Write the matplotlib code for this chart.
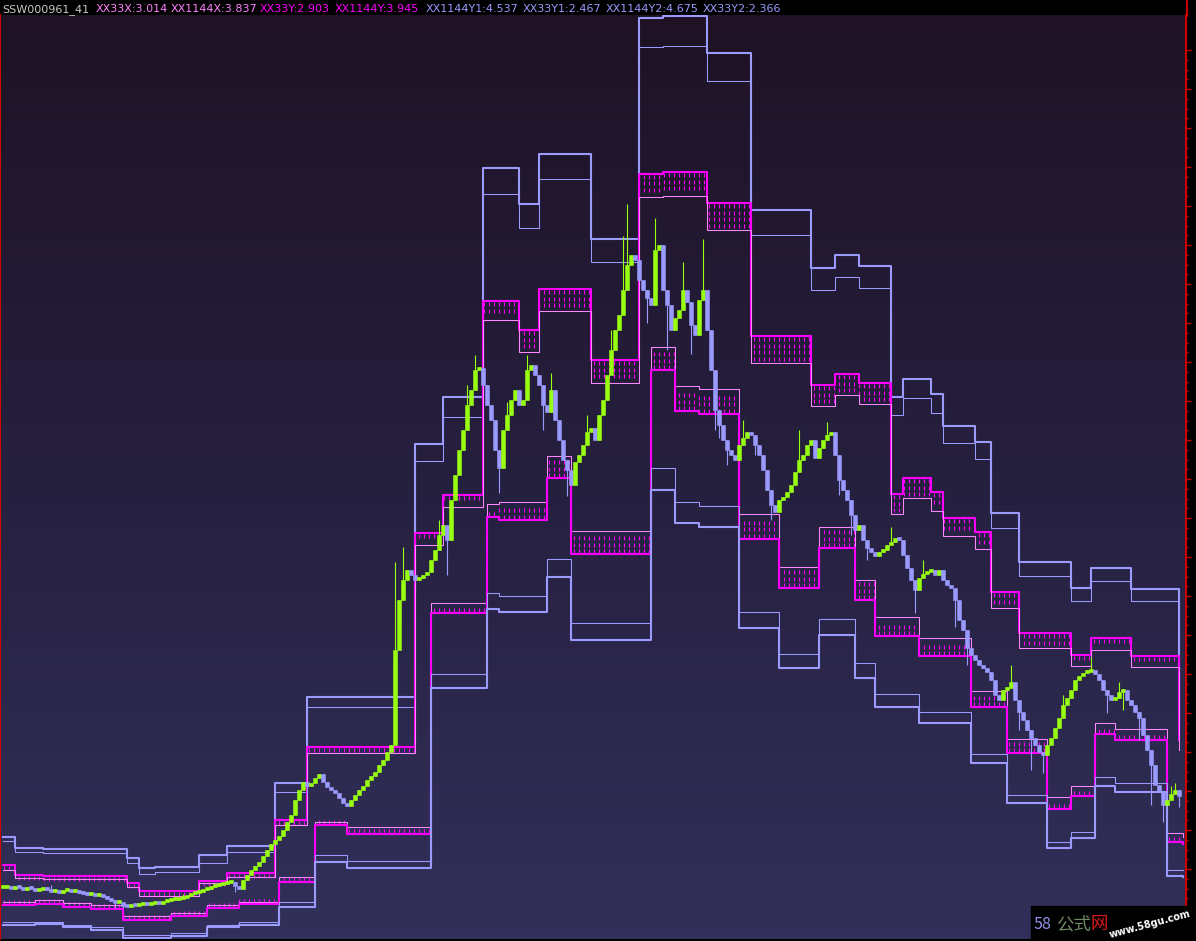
import numpy as np
import matplotlib
matplotlib.use("Agg")
import matplotlib.pyplot as plt
from matplotlib.colors import LinearSegmentedColormap
from matplotlib.lines import Line2D
from matplotlib.patches import Rectangle

# ---- price data (one candle per bar) ----
closes = [
    2.24, 2.26, 2.22, 2.28, 2.24, 2.20, 2.24, 2.22, 2.18, 2.20,
    2.24, 2.20, 2.16, 2.18, 2.14, 2.18, 2.20, 2.16, 2.18, 2.14,
    2.12, 2.10, 2.12, 2.08, 2.10, 2.06, 2.02, 1.98, 1.94, 1.96,
    1.88, 1.86, 1.90, 1.88, 1.90, 1.92, 1.90, 1.92, 1.94, 1.92,
    1.96, 1.98, 2.00, 2.00, 2.02, 2.04, 2.08, 2.12, 2.14, 2.16,
    2.20, 2.22, 2.26, 2.28, 2.30, 2.32, 2.34, 2.36, 2.28, 2.22,
    2.40, 2.50, 2.60, 2.68, 2.76, 2.88, 3.00, 3.12, 3.20, 3.28,
    3.40, 3.56, 3.70, 4.00, 4.20, 4.36, 4.28, 4.34, 4.44, 4.52,
    4.36, 4.26, 4.20, 4.14, 4.04, 3.94, 3.88, 4.00, 4.10, 4.20,
    4.28, 4.40, 4.48, 4.56, 4.70, 4.80, 4.96, 5.10, 7.00, 8.00,
    8.40, 8.60, 8.50, 8.40, 8.44, 8.50, 8.56, 8.80, 9.00, 9.30,
    9.50, 9.20, 10.00, 10.50, 11.00, 11.40, 11.90, 12.20, 12.60, 12.64,
    12.30, 11.90, 11.60, 11.00, 10.64, 11.40, 11.70, 12.00, 12.20, 11.90,
    12.00, 12.60, 12.70, 12.50, 12.30, 11.90, 11.76, 12.20, 11.60, 11.20,
    10.80, 10.60, 10.30, 10.76, 10.90, 11.10, 11.36, 11.44, 11.20, 11.70,
    12.00, 12.50, 13.00, 13.40, 13.70, 14.20, 14.70, 14.90, 14.80, 14.40,
    14.20, 14.04, 13.90, 15.00, 15.10, 14.20, 13.90, 13.40, 13.64, 13.80,
    14.20, 13.96, 13.50, 13.30, 14.00, 14.20, 13.40, 12.60, 11.80, 11.50,
    11.20, 11.00, 10.90, 10.80, 11.10, 11.24, 11.36, 11.30, 11.10, 10.90,
    10.60, 10.20, 9.90, 9.76, 10.00, 10.06, 10.16, 10.30, 10.56, 10.80,
    10.90, 11.10, 11.20, 10.84, 11.04, 11.20, 11.30, 11.36, 10.90, 10.40,
    10.20, 10.00, 9.70, 9.40, 9.50, 9.20, 9.04, 8.96, 8.88, 8.96,
    9.00, 9.10, 9.16, 9.24, 9.20, 8.90, 8.64, 8.40, 8.20, 8.44,
    8.52, 8.56, 8.60, 8.50, 8.60, 8.40, 8.30, 8.24, 8.00, 7.60,
    7.40, 7.04, 6.90, 6.80, 6.70, 6.64, 6.56, 6.40, 6.10, 6.00,
    6.20, 6.24, 6.36, 6.00, 5.76, 5.60, 5.40, 5.24, 5.10, 4.96,
    4.90, 5.10, 5.24, 5.44, 5.64, 5.90, 6.04, 6.20, 6.40, 6.48,
    6.54, 6.56, 6.60, 6.52, 6.40, 6.20, 6.10, 6.00, 6.04, 6.16,
    6.20, 6.00, 5.90, 5.76, 5.64, 5.30, 5.00, 4.70, 4.30, 4.16,
    3.90, 4.00, 4.12, 4.20, 4.08,
]
# long shadows worth drawing (bar -> price)
wick_high = {12: 2.30, 45: 2.12, 98: 8.76, 100: 9.06, 109: 9.60, 116: 12.30, 118: 12.90,
             126: 11.96, 131: 12.90, 137: 12.54, 146: 11.70, 152: 13.40, 155: 15.28,
             156: 15.92, 163: 15.64, 170: 14.76, 175: 15.22, 185: 11.60, 199: 11.40,
             206: 11.56, 222: 9.46, 230: 8.80, 252: 6.70, 265: 6.10, 272: 6.86,
             279: 6.36, 292: 4.28, 293: 4.34}
wick_low = {28: 1.84, 58: 2.16, 76: 4.10, 111: 8.50, 124: 10.14, 135: 11.40, 141: 10.08,
            161: 13.54, 166: 13.00, 172: 12.92, 178: 11.40, 179: 11.24, 181: 10.70,
            188: 10.90, 192: 9.60, 209: 10.10, 212: 9.30, 216: 8.80, 228: 7.74,
            238: 7.46, 241: 6.70, 254: 5.40, 257: 4.60, 260: 4.54, 276: 5.74,
            280: 5.80, 284: 5.20, 287: 3.90, 290: 3.56, 294: 3.86}

# ---- upper channel (XX1144...) : step start bars and values ----
up_bars = [0, 3, 10, 31, 34, 38, 49, 56, 68, 76, 103, 110, 120, 129, 134, 147, 159,
           165, 176, 187, 202, 208, 214, 222, 225, 232, 235, 243, 247, 254, 267, 272,
           282, 294]
xx1144y2 = [3.26, 3.04, 3.02, 2.84, 2.64, 2.66, 2.90, 3.08, 4.34, 6.06, 11.12, 12.06,
            16.64, 15.92, 16.92, 15.22, 19.64, 19.68, 18.94, 15.80, 14.64, 14.90, 14.68,
            12.06, 12.42, 12.12, 11.48, 11.16, 9.74, 8.76, 8.24, 8.64, 8.22, 5.70]
xx1144y1 = [3.18, 2.96, 2.94, 2.74, 2.52, 2.56, 2.74, 2.96, 4.16, 5.86, 10.78, 11.66,
            16.12, 15.44, 16.42, 14.76, 19.06, 19.08, 18.38, 15.30, 14.20, 14.46, 14.24,
            11.70, 12.04, 11.74, 11.14, 10.82, 9.44, 8.48, 7.98, 8.38, 7.98, 5.56]
xx1144y = [2.70, 2.50, 2.48, 2.34, 2.18, 2.18, 2.38, 2.54, 3.60, 5.06, 9.34, 10.10,
           13.98, 13.40, 14.22, 12.80, 16.52, 16.56, 15.94, 13.28, 12.30, 12.52, 12.34,
           10.12, 10.44, 10.16, 9.64, 9.36, 8.16, 7.34, 6.90, 7.24, 6.88, 5.20]
xx1144x = [2.60, 2.44, 2.42, 2.26, 2.08, 2.08, 2.34, 2.46, 3.50, 4.94, 9.10, 9.86,
           13.60, 12.96, 13.78, 12.34, 16.06, 16.08, 15.40, 12.74, 11.88, 12.10, 11.92,
           9.72, 10.04, 9.78, 9.28, 9.02, 7.84, 7.04, 6.68, 7.00, 6.66, 5.00]

# ---- lower channel (XX33...) ----
lo_bars = [0, 8, 15, 22, 30, 42, 51, 59, 69, 78, 86, 107, 121, 124, 136, 142, 162, 168,
           174, 184, 194, 204, 213, 218, 229, 242, 251, 261, 267, 273, 278, 291, 295]
xx33x = [1.96, 2.00, 1.94, 1.90, 1.68, 1.74, 1.90, 1.96, 2.46, 3.56, 3.46, 7.94, 9.92,
         9.96, 10.88, 9.38, 13.06, 12.28, 12.22, 9.72, 8.66, 9.46, 8.40, 7.66, 7.24,
         6.18, 5.22, 4.06, 4.28, 5.54, 5.42, 3.34, 3.27]
xx33y = [1.90, 1.92, 1.86, 1.82, 1.60, 1.68, 1.84, 1.92, 2.36, 3.50, 3.32, 7.74, 9.66,
         9.60, 10.44, 8.92, 12.60, 11.78, 11.72, 9.22, 8.24, 9.04, 8.00, 7.28, 6.88,
         5.86, 4.94, 3.82, 4.08, 5.32, 5.20, 3.16, 3.13]
xx33y1 = [1.56, 1.56, 1.50, 1.46, 1.30, 1.34, 1.50, 1.56, 1.96, 2.90, 2.78, 6.52, 8.14,
          8.08, 8.82, 7.54, 10.64, 9.96, 9.88, 7.76, 6.92, 7.62, 6.74, 6.12, 5.76, 4.92,
          4.10, 3.16, 3.36, 4.46, 4.34, 2.60, 2.60]
xx33y2 = [1.50, 1.52, 1.46, 1.40, 1.24, 1.28, 1.46, 1.50, 1.86, 2.76, 2.64, 6.24, 7.82,
          7.76, 8.46, 7.20, 10.20, 9.54, 9.46, 7.44, 6.64, 7.30, 6.44, 5.86, 5.54, 4.74,
          3.94, 3.04, 3.24, 4.28, 4.16, 2.48, 2.47]

header = [("SSW000961_41", "#c8c8c8", 2),
          ("XX33X:3.014", "#ff80ff", 96), ("XX1144X:3.837", "#ff80ff", 171),
          ("XX33Y:2.903", "#ff00ff", 260), ("XX1144Y:3.945", "#ff00ff", 335),
          ("XX1144Y1:4.537", "#9999ff", 426), ("XX33Y1:2.467", "#9999ff", 523),
          ("XX1144Y2:4.675", "#9999ff", 606), ("XX33Y2:2.366", "#9999ff", 703)]

LAV = "#9a9aff"
MAG = "#ff00ff"
PINK = "#ff88ff"
GREEN = "#99ff11"

W, H = 1196, 941
fig = plt.figure(figsize=(W / 100, H / 100), dpi=100, facecolor="black")
ax = fig.add_axes([0, 2 / H, 1186 / W, 924 / H])

# gradient background
bg = LinearSegmentedColormap.from_list("bg", ["#1e1224", "#26203f", "#32305a"])
ax.imshow(np.linspace(0, 1, 256).reshape(-1, 1), cmap=bg, aspect="auto",
          extent=[0, 1, 0, 1], transform=ax.transAxes, zorder=0)


def step_at(bars, vals, xq):
    k = np.searchsorted(np.asarray(bars), xq, side="right") - 1
    return np.asarray(vals)[k]


# dashed hatch between the magenta pairs
def hatch(bars, top, bot, from_top):
    xq = np.arange(0.3, bars[-1], 1.25)
    hi = step_at(bars, top, xq)
    lo = step_at(bars, bot, xq)
    px, py = [], []
    for x, a, b in zip(xq, hi, lo):
        n = max(1, int((a - b) / 0.13))
        for k in range(n):
            y = a - 0.06 - k * 0.13 if from_top else b + 0.06 + k * 0.13
            px.append(x)
            py.append(y)
    ax.scatter(px, py, marker="|", s=9, linewidths=0.8, color=MAG, zorder=2)


hatch(up_bars, xx1144y, xx1144x, True)
hatch(lo_bars, xx33x, xx33y, False)

for bars, vals, col, lw in [(up_bars, xx1144y2, LAV, 1.5), (up_bars, xx1144y1, LAV, 0.75),
                            (up_bars, xx1144y, MAG, 1.5), (up_bars, xx1144x, PINK, 0.75),
                            (lo_bars, xx33x, PINK, 0.75), (lo_bars, xx33y, MAG, 1.5),
                            (lo_bars, xx33y1, LAV, 0.75), (lo_bars, xx33y2, LAV, 1.5)]:
    ax.step(bars, vals, where="post", color=col, lw=lw, zorder=3)

# candles
c = np.array(closes)
o = np.r_[c[0], c[:-1]]
idx = np.arange(len(c))
hi = np.maximum(o, c)
lo = np.minimum(o, c)
body_lo = lo.copy()
body_h = np.maximum(hi - lo, 0.07)
for i, v in wick_high.items():
    hi[i] = max(hi[i], v)
for i, v in wick_low.items():
    lo[i] = min(lo[i], v)
cols = np.where(c >= o, GREEN, LAV)
ax.vlines(idx, lo, np.maximum(hi, body_lo + body_h), colors=cols, lw=0.8, zorder=4)
ax.bar(idx, body_h, bottom=body_lo, width=0.8, color=cols, edgecolor=cols, linewidth=0.4, zorder=5)

ax.set_xlim(-0.75, 295.75)
ax.set_ylim(1.22, 19.70)
ax.set_facecolor("black")
for s in ["top", "bottom"]:
    ax.spines[s].set_visible(False)
for s in ["left", "right"]:
    ax.spines[s].set_color("#cc0000")
    ax.spines[s].set_linewidth(1.5)
ax.set_xticks([])
ax.yaxis.tick_right()
ax.set_yticks(np.arange(19.0, 1.3, -0.78))
ax.set_yticks(np.arange(19.0, 1.3, -0.195), minor=True)
ax.tick_params(axis="y", which="major", colors="#cc0000", length=3.5, width=1, labelright=False)
ax.tick_params(axis="y", which="minor", colors="#cc0000", length=1.5, width=1)

# red axis line through the header band
fig.add_artist(Line2D([1186.5 / W, 1186.5 / W], [1 - 16 / H, 1], color="#cc0000", lw=1.5))

for s, col, x in header:
    fig.text(x / W, 1 - 12.5 / H, s, color=col, fontsize=8, va="baseline", family="DejaVu Sans")

# site mark in the bottom corner
fig.add_artist(Rectangle((1031 / W, 0), (W - 1031) / W, 35 / H, transform=fig.transFigure,
                         color="black", zorder=10))
cjk = ["Noto Sans CJK SC", "DejaVu Sans"]
fig.text(1033 / W, 12 / H, "58", color="#8f8fe8", fontsize=11.5, family=cjk, zorder=11)
fig.text(1056 / W, 12 / H, "公式", color="#6f8a66", fontsize=12.5, family=cjk, zorder=11)
fig.text(1091 / W, 12 / H, "网", color="#e01818", fontsize=12.5, family=cjk, zorder=11)
fig.text(1108 / W, 3 / H, "www.58gu.com", color="white", fontsize=7, rotation=15,
         family="DejaVu Sans", weight="bold", zorder=11)

fig.savefig("out.png", dpi=100, facecolor="black")
